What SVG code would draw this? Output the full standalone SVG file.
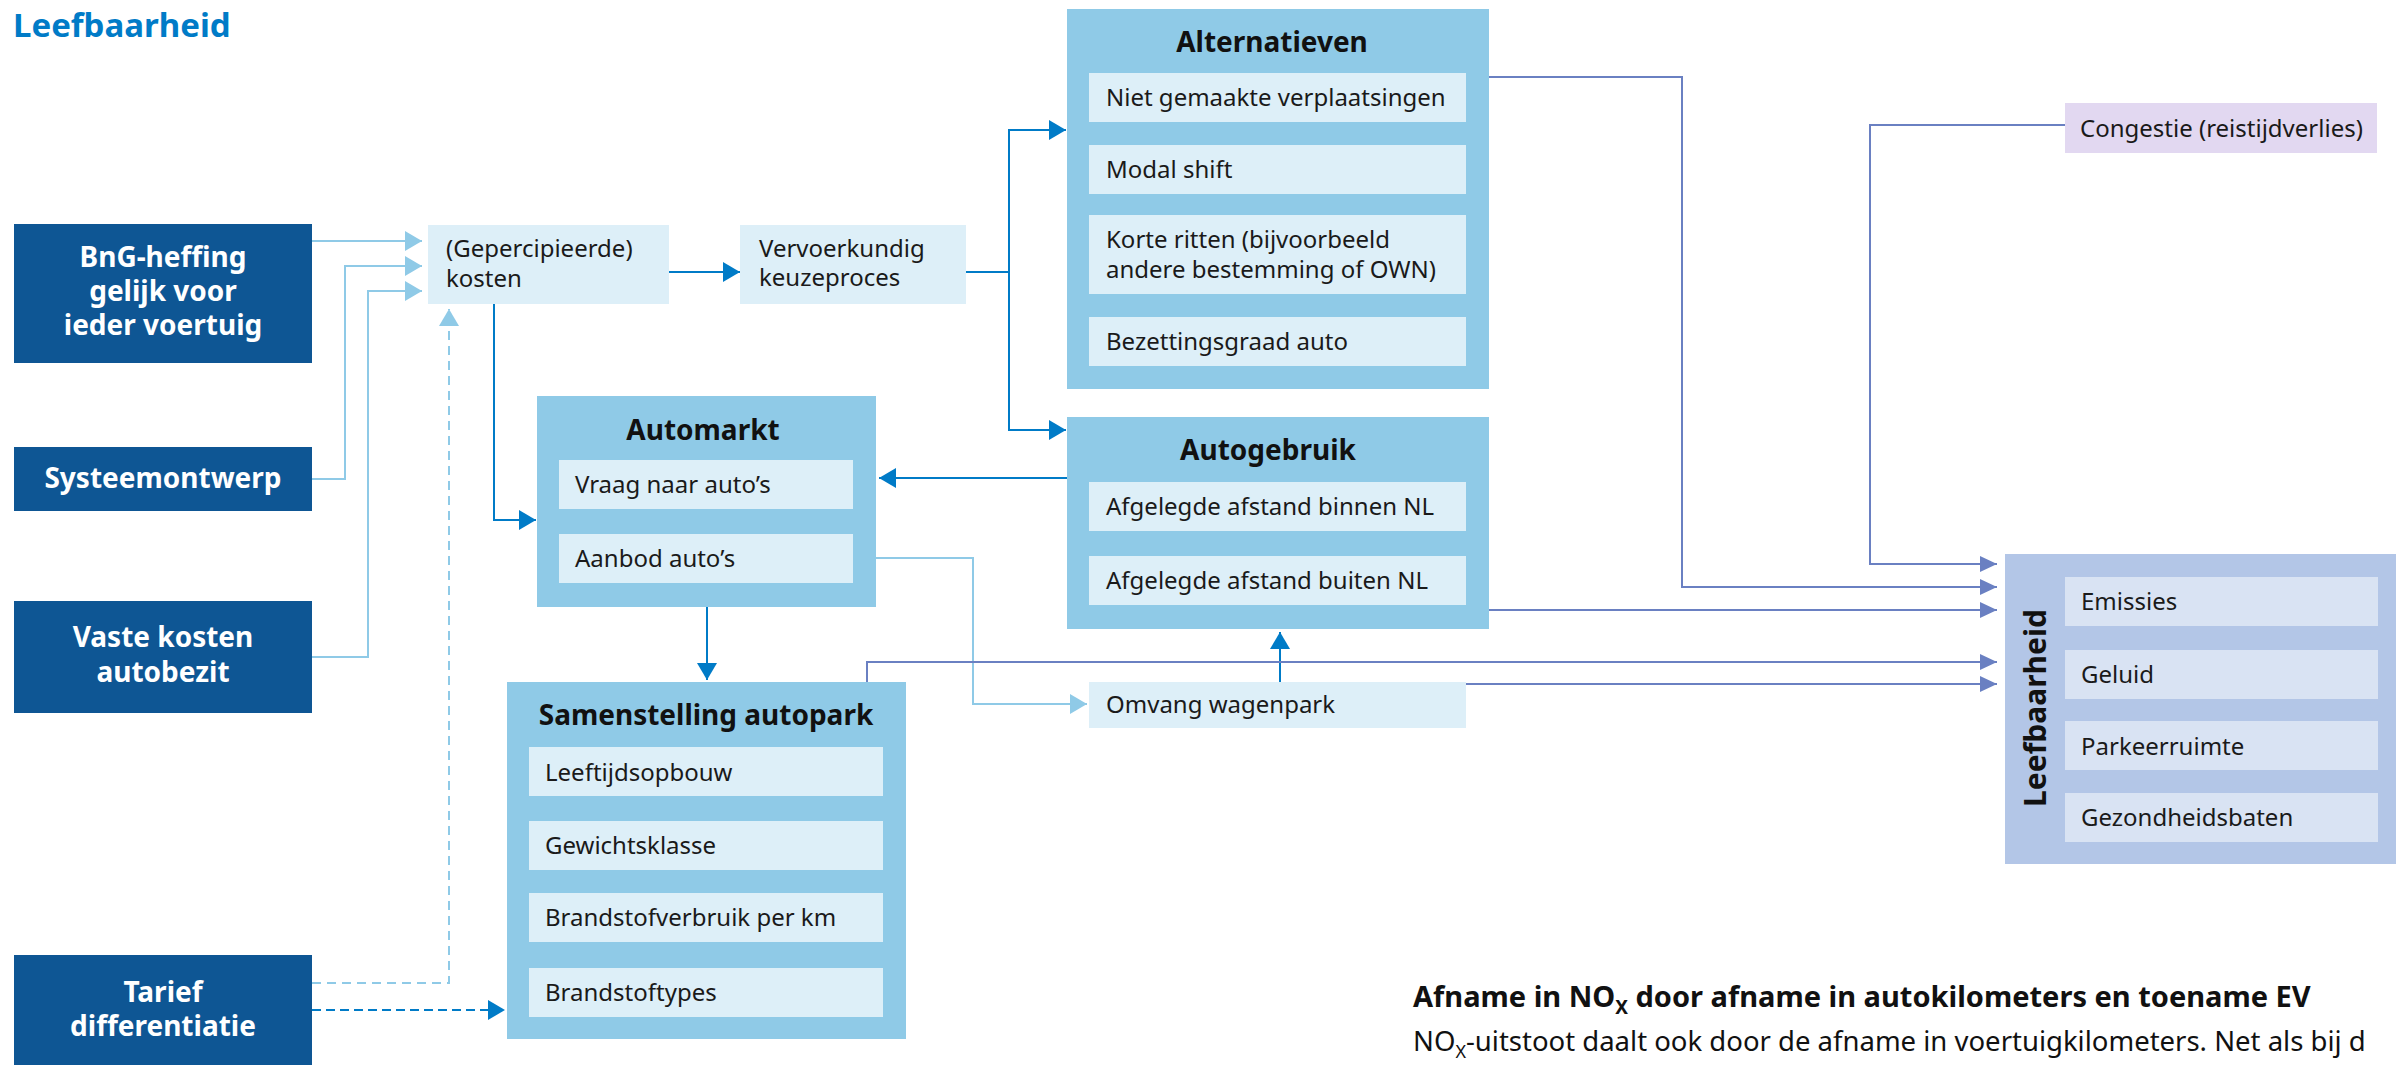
<svg xmlns="http://www.w3.org/2000/svg" width="2396" height="1065" viewBox="0 0 2396 1065">
<defs>
<style>
text{font-family:"Noto Sans","Open Sans","Liberation Sans",sans-serif;}
.in{fill:#0e5694;}
.mid{fill:#8fcae7;}
.lt{fill:#ddeff8;}
.lf{fill:#b3c6e7;}
.lfi{fill:#d9e3f3;}
.cg{fill:#e2d8f1;}
.wt{fill:#ffffff;font-weight:700;font-size:28px;text-anchor:middle;}
.hd{fill:#111111;font-weight:700;font-size:28px;text-anchor:middle;}
.tx{fill:#1a1a1a;font-size:24px;}
.cdark{fill:none;stroke:#007bc7;stroke-width:2;}
.clight{fill:none;stroke:#8fcae7;stroke-width:2;}
.cpur{fill:none;stroke:#6a80c2;stroke-width:2;}
.dash1{stroke-dasharray:9 6;}
.dash2{stroke-dasharray:9 5;}
</style>
<marker id="aD" markerUnits="userSpaceOnUse" markerWidth="17" markerHeight="20" refX="17" refY="10" orient="auto"><path d="M0,0 L17,10 L0,20 Z" fill="#007bc7"/></marker>
<marker id="aL" markerUnits="userSpaceOnUse" markerWidth="17" markerHeight="20" refX="17" refY="10" orient="auto"><path d="M0,0 L17,10 L0,20 Z" fill="#8fcae7"/></marker>
<marker id="aP" markerUnits="userSpaceOnUse" markerWidth="17" markerHeight="16" refX="17" refY="8" orient="auto"><path d="M0,0 L17,8 L0,16 Z" fill="#6a80c2"/></marker>
</defs>
<rect width="2396" height="1065" fill="#ffffff"/>
<text x="13" y="37" style="font-weight:700;font-size:33px;fill:#007bc7">Leefbaarheid</text>

<g id="connectors">
<path class="clight" d="M312,241 H422" marker-end="url(#aL)"/>
<path class="clight" d="M312,479 H345 V266 H422" marker-end="url(#aL)"/>
<path class="clight" d="M312,657 H368 V291 H422" marker-end="url(#aL)"/>
<path class="clight dash1" d="M312,983 H449 V309" marker-end="url(#aL)"/>
<path class="cdark dash2" d="M312,1010 H505" marker-end="url(#aD)"/>
<path class="cdark" d="M669,272 H740" marker-end="url(#aD)"/>
<path class="cdark" d="M966,272 H1009 V130 H1066" marker-end="url(#aD)"/>
<path class="cdark" d="M1009,272 V430 H1066" marker-end="url(#aD)"/>
<path class="cdark" d="M494,304 V520 H536" marker-end="url(#aD)"/>
<path class="cdark" d="M1067,478 H879" marker-end="url(#aD)"/>
<path class="cdark" d="M707,607 V680" marker-end="url(#aD)"/>
<path class="clight" d="M876,558 H973 V704 H1087" marker-end="url(#aL)"/>
<path class="cdark" d="M1280,682 V632" marker-end="url(#aD)"/>
<path class="cpur" d="M1489,77 H1682 V587 H1997" marker-end="url(#aP)"/>
<path class="cpur" d="M2065,125 H1870 V564 H1997" marker-end="url(#aP)"/>
<path class="cpur" d="M1489,610 H1997" marker-end="url(#aP)"/>
<path class="cpur" d="M867,682 V662 H1997" marker-end="url(#aP)"/>
<path class="cpur" d="M1466,684 H1997" marker-end="url(#aP)"/>
</g>

<g id="bng">
<rect class="in" x="14" y="224" width="298" height="139"/>
<text class="wt" x="163" y="267">BnG-heffing</text>
<text class="wt" x="163" y="301">gelijk voor</text>
<text class="wt" x="163" y="335">ieder voertuig</text>
</g>
<g id="systeemontwerp">
<rect class="in" x="14" y="447" width="298" height="64"/>
<text class="wt" x="163" y="488">Systeemontwerp</text>
</g>
<g id="vaste-kosten">
<rect class="in" x="14" y="601" width="298" height="112"/>
<text class="wt" x="163" y="647">Vaste kosten</text>
<text class="wt" x="163" y="682">autobezit</text>
</g>
<g id="tarief">
<rect class="in" x="14" y="955" width="298" height="110"/>
<text class="wt" x="163" y="1002">Tarief</text>
<text class="wt" x="163" y="1036">differentiatie</text>
</g>

<g id="kosten">
<rect class="lt" x="428" y="225" width="241" height="79"/>
<text class="tx" x="446" y="257">(Gepercipieerde)</text>
<text class="tx" x="446" y="287">kosten</text>
</g>
<g id="vervoerkundig">
<rect class="lt" x="740" y="225" width="226" height="79"/>
<text class="tx" x="759" y="257">Vervoerkundig</text>
<text class="tx" x="759" y="286">keuzeproces</text>
</g>

<g id="alternatieven">
<rect class="mid" x="1067" y="9" width="422" height="380"/>
<text class="hd" x="1272" y="52">Alternatieven</text>
<rect class="lt" x="1089" y="73" width="377" height="49"/>
<text class="tx" x="1106" y="106">Niet gemaakte verplaatsingen</text>
<rect class="lt" x="1089" y="145" width="377" height="49"/>
<text class="tx" x="1106" y="178">Modal shift</text>
<rect class="lt" x="1089" y="215" width="377" height="79"/>
<text class="tx" x="1106" y="248">Korte ritten (bijvoorbeeld</text>
<text class="tx" x="1106" y="278">andere bestemming of OWN)</text>
<rect class="lt" x="1089" y="317" width="377" height="49"/>
<text class="tx" x="1106" y="350">Bezettingsgraad auto</text>
</g>

<g id="autogebruik">
<rect class="mid" x="1067" y="417" width="422" height="212"/>
<text class="hd" x="1268" y="460">Autogebruik</text>
<rect class="lt" x="1089" y="482" width="377" height="49"/>
<text class="tx" x="1106" y="515">Afgelegde afstand binnen NL</text>
<rect class="lt" x="1089" y="556" width="377" height="49"/>
<text class="tx" x="1106" y="589">Afgelegde afstand buiten NL</text>
</g>

<g id="automarkt">
<rect class="mid" x="537" y="396" width="339" height="211"/>
<text class="hd" x="703" y="440">Automarkt</text>
<rect class="lt" x="559" y="460" width="294" height="49"/>
<text class="tx" x="575" y="493">Vraag naar auto’s</text>
<rect class="lt" x="559" y="534" width="294" height="49"/>
<text class="tx" x="575" y="567">Aanbod auto’s</text>
</g>

<g id="samenstelling">
<rect class="mid" x="507" y="682" width="399" height="357"/>
<text class="hd" x="706" y="725">Samenstelling autopark</text>
<rect class="lt" x="529" y="747" width="354" height="49"/>
<text class="tx" x="545" y="781">Leeftijdsopbouw</text>
<rect class="lt" x="529" y="821" width="354" height="49"/>
<text class="tx" x="545" y="854">Gewichtsklasse</text>
<rect class="lt" x="529" y="893" width="354" height="49"/>
<text class="tx" x="545" y="926">Brandstofverbruik per km</text>
<rect class="lt" x="529" y="968" width="354" height="49"/>
<text class="tx" x="545" y="1001">Brandstoftypes</text>
</g>

<g id="omvang">
<rect class="lt" x="1089" y="682" width="377" height="46"/>
<text class="tx" x="1106" y="713">Omvang wagenpark</text>
</g>

<g id="congestie">
<rect class="cg" x="2065" y="103" width="312" height="50"/>
<text class="tx" x="2080" y="137">Congestie (reistijdverlies)</text>
</g>

<g id="leefbaarheid">
<rect class="lf" x="2005" y="554" width="391" height="310"/>
<text transform="translate(2046,708) rotate(-90)" style="font-weight:700;font-size:30px;fill:#111111;text-anchor:middle">Leefbaarheid</text>
<rect class="lfi" x="2065" y="577" width="313" height="49"/>
<text class="tx" x="2081" y="610">Emissies</text>
<rect class="lfi" x="2065" y="650" width="313" height="49"/>
<text class="tx" x="2081" y="683">Geluid</text>
<rect class="lfi" x="2065" y="721" width="313" height="49"/>
<text class="tx" x="2081" y="755">Parkeerruimte</text>
<rect class="lfi" x="2065" y="793" width="313" height="49"/>
<text class="tx" x="2081" y="826">Gezondheidsbaten</text>
</g>

<text x="1413" y="1007" style="font-weight:700;font-size:29px;fill:#111111">Afname in NO<tspan font-size="19" dy="7">X</tspan><tspan dy="-7"> door afname in autokilometers en toename EV</tspan></text>
<text x="1413" y="1051" style="font-size:27.5px;fill:#111111">NO<tspan font-size="18" dy="7">X</tspan><tspan dy="-7">-uitstoot daalt ook door de afname in voertuigkilometers. Net als bij d</tspan></text>
</svg>
